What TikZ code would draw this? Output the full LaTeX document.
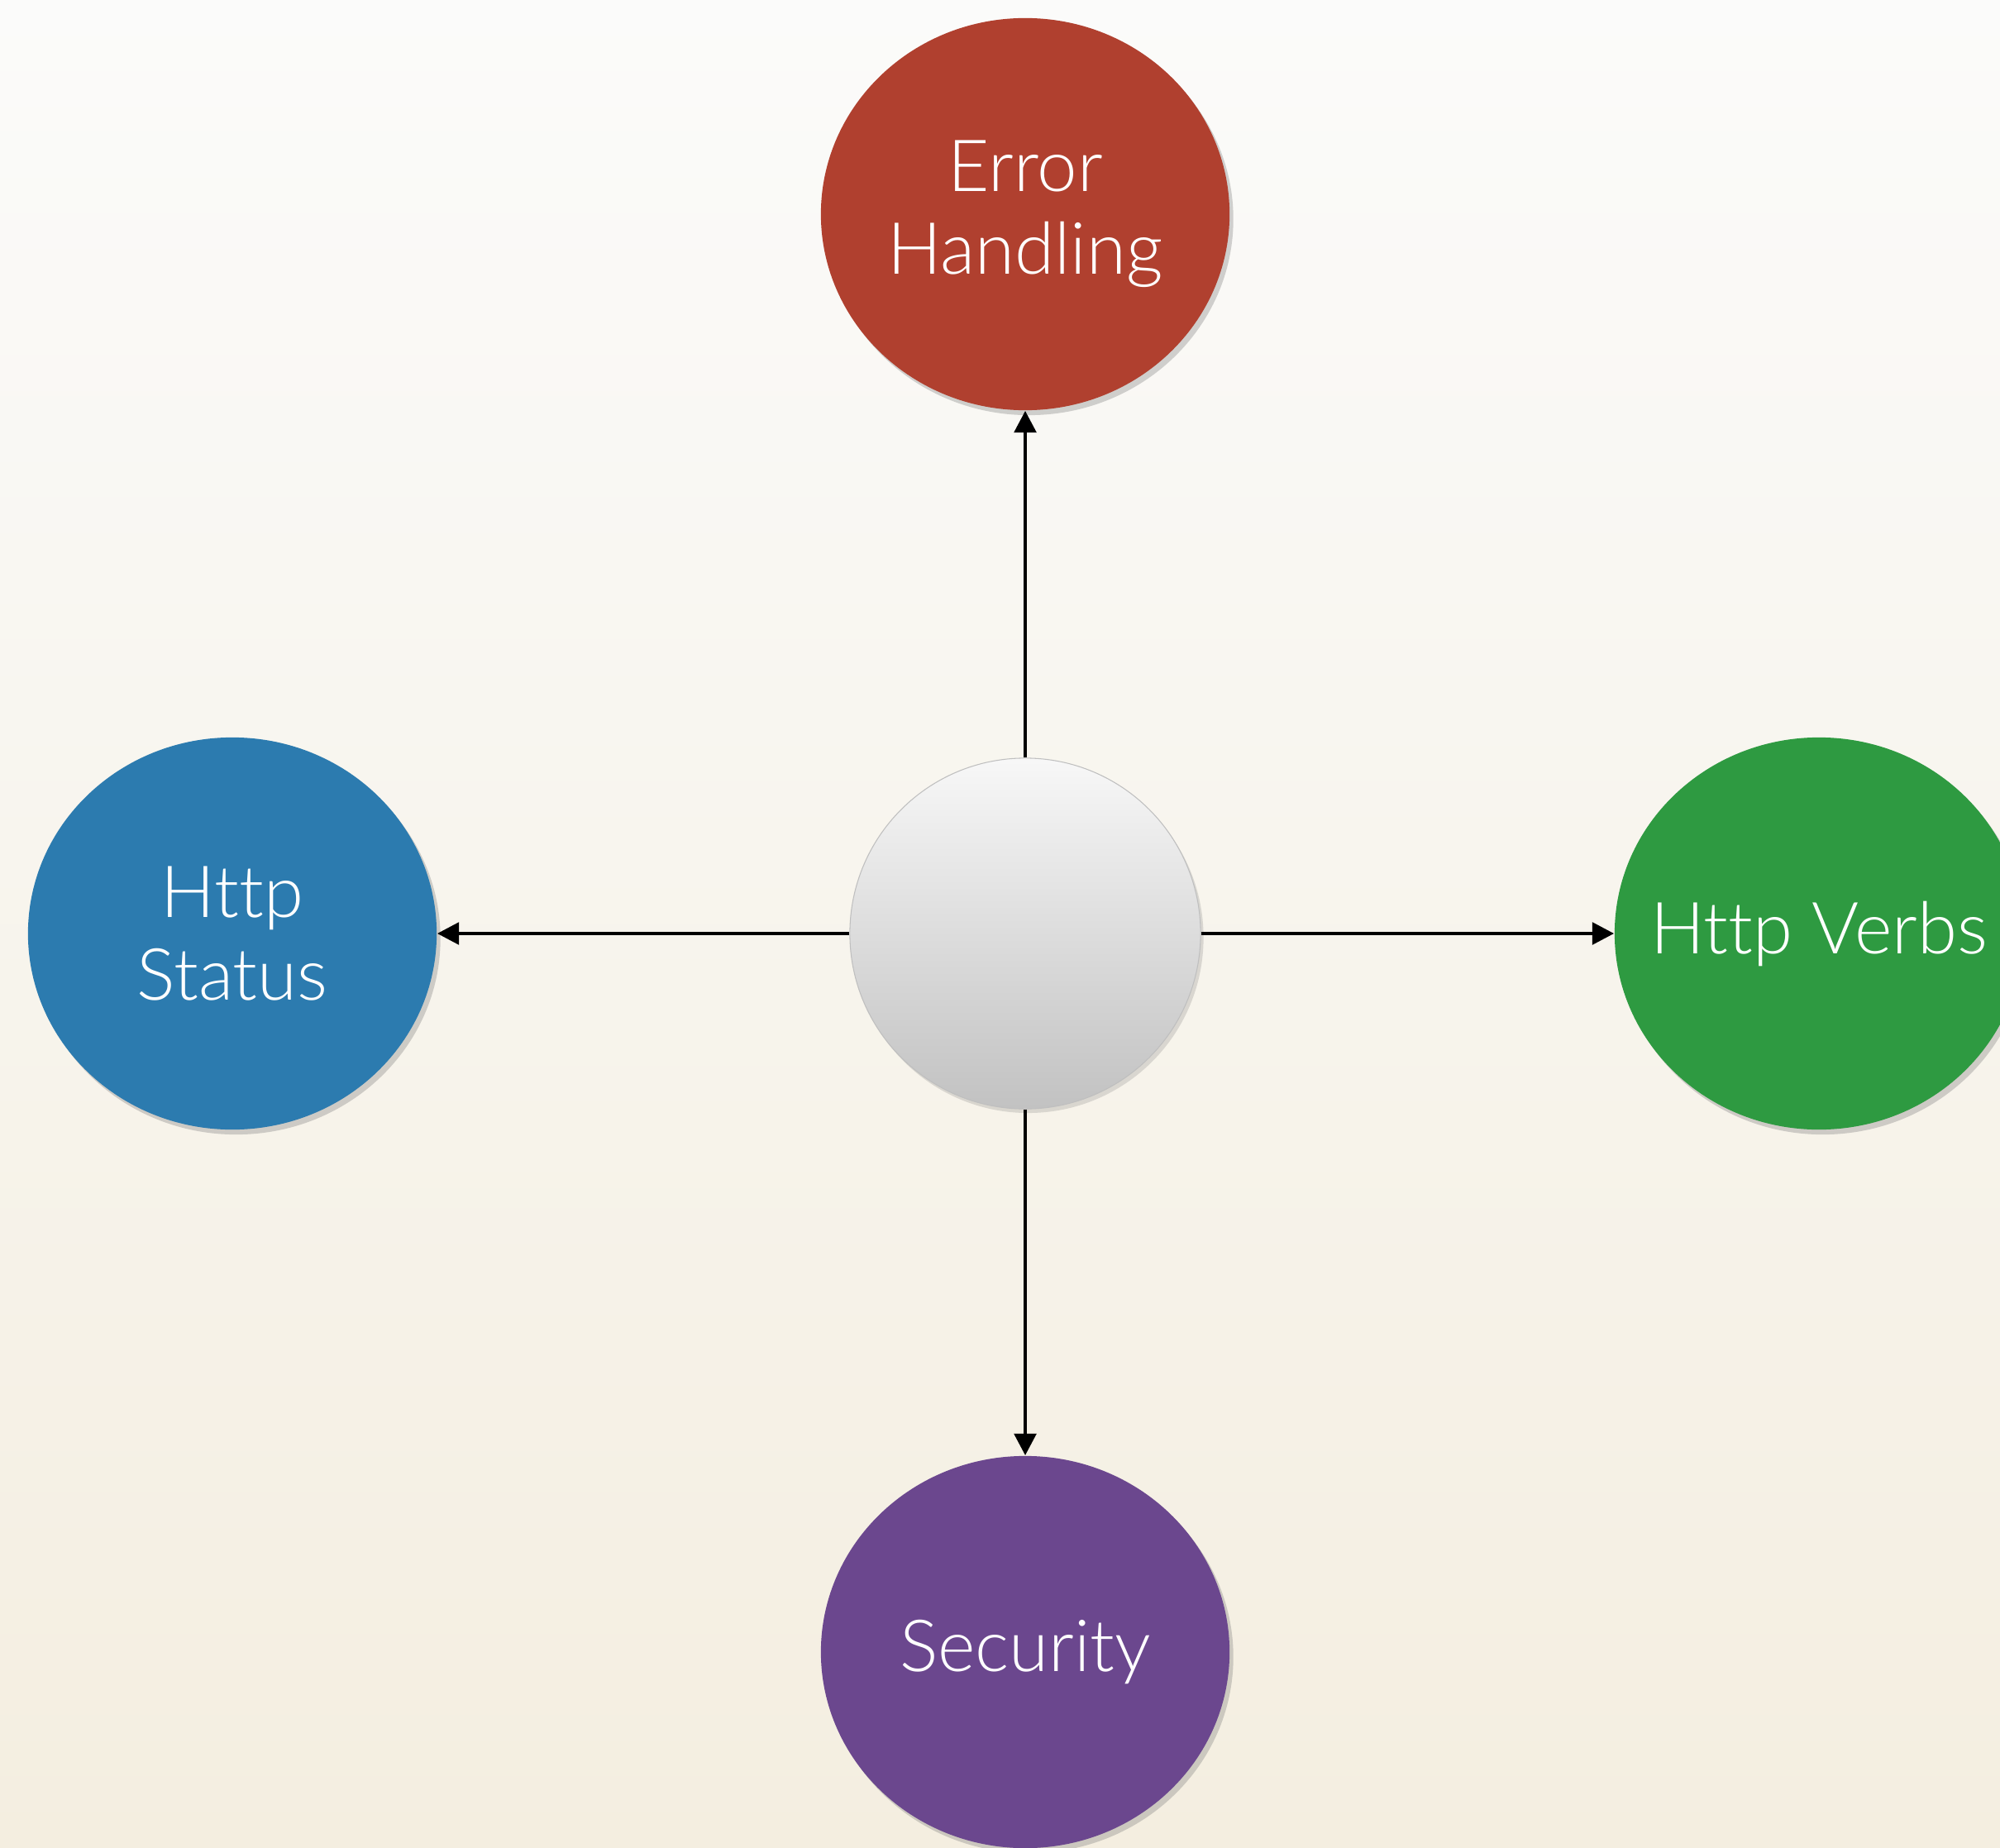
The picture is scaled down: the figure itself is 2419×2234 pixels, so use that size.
\documentclass[tikz,border=0pt]{standalone}
\usepackage{fontspec}
\setmainfont{Lato Light}[Ligatures=NoCommon]
\usetikzlibrary{arrows.meta,shapes.geometric,shadows}
\definecolor{bgtop}{RGB}{251,251,250}
\definecolor{bgbot}{RGB}{244,238,224}
\definecolor{errred}{RGB}{176,64,47}
\definecolor{statblue}{RGB}{44,123,175}
\definecolor{verbgreen}{RGB}{46,154,65}
\definecolor{secpurple}{RGB}{107,71,142}
\tikzset{
  topic/.style={ellipse, minimum width=4.94cm, minimum height=4.74cm,
    inner xsep=-1.2cm, inner ysep=-.8cm,
    text=white, align=center,
    drop shadow={opacity=.35, shadow xshift=1.3pt, shadow yshift=-1.7pt}},
  hubnode/.style={circle, minimum size=4.24cm, draw=black!25, line width=.3pt,
    top color=white!97!black, bottom color=white!76!black,
    drop shadow={opacity=.25, shadow xshift=1pt, shadow yshift=-1.4pt}},
}
\begin{document}
\begin{tikzpicture}[x=0.01cm, y=-0.01cm, font=\fontsize{24.75}{28.5}\selectfont,
    line join=round, >={Triangle[length=7.5pt,width=7.5pt]}]
	\useasboundingbox (0,0) rectangle (2419,2234);
	\shade[top color=bgtop, bottom color=bgbot] (0,0) rectangle (2419,2234);
	\node[hubnode] (hub) at (1240,1129) {};
	\node[topic, fill=errred] (err) at (1240,259) {Error\\Handling};
	\node[topic, fill=statblue] (stat) at (281,1129) {Http\\Status};
	\node[topic, fill=verbgreen] (verbs) at (2200,1129) {Http Verbs};
	\node[topic, fill=secpurple] (sec) at (1240,1998) {Security};
	\foreach \t in {err,stat,verbs,sec} \draw[->, line width=1.35pt] (hub) -- (\t);
\end{tikzpicture}
\end{document}
